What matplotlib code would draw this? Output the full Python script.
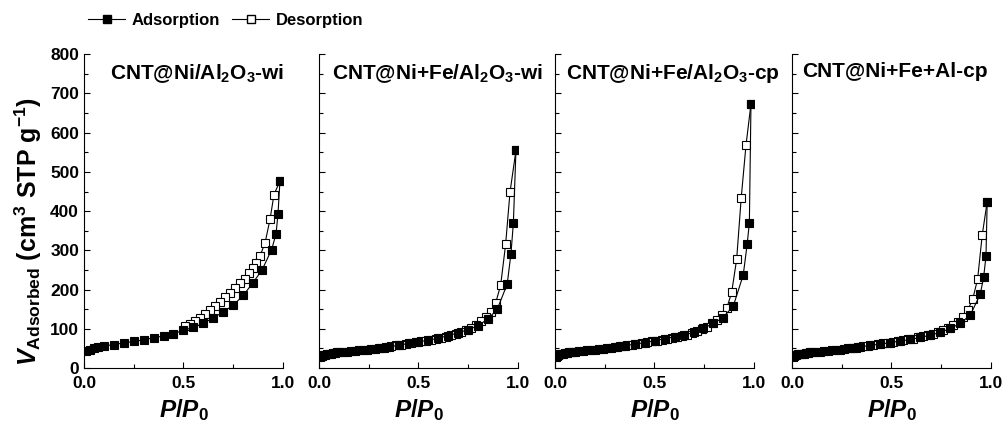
import matplotlib
matplotlib.use("Agg")
import matplotlib.pyplot as plt
from matplotlib.ticker import MultipleLocator
from matplotlib.lines import Line2D

plt.rcParams['font.family'] = ['Liberation Sans', 'DejaVu Sans']
plt.rcParams['font.weight'] = 'bold'
plt.rcParams['axes.labelweight'] = 'bold'
plt.rcParams['mathtext.fontset'] = 'custom'
plt.rcParams['mathtext.rm'] = 'Liberation Sans:bold'
plt.rcParams['mathtext.bf'] = 'Liberation Sans:bold'
plt.rcParams['mathtext.it'] = 'Liberation Sans:italic:bold'
plt.rcParams['mathtext.default'] = 'rm'

titles = ['CNT@Ni/Al$_2$O$_3$-wi', 'CNT@Ni+Fe/Al$_2$O$_3$-wi',
          'CNT@Ni+Fe/Al$_2$O$_3$-cp', 'CNT@Ni+Fe+Al-cp']

# panel 1: CNT@Ni/Al2O3-wi
ads1_x = [0.01, 0.03, 0.05, 0.07, 0.10, 0.15, 0.20, 0.25, 0.30, 0.35, 0.40, 0.45, 0.50,
          0.55, 0.60, 0.65, 0.70, 0.75, 0.80, 0.85, 0.895, 0.943, 0.965, 0.975, 0.985]
ads1_y = [44, 47, 50, 53, 56, 60, 64, 68, 72, 77, 82, 88, 96,
          104, 114, 128, 143, 160, 185, 218, 250, 302, 341, 392, 477]
des1_x = [0.985, 0.955, 0.935, 0.91, 0.885, 0.865, 0.85, 0.83, 0.81, 0.785, 0.76,
          0.735, 0.71, 0.685, 0.66, 0.635, 0.61, 0.585, 0.56, 0.535, 0.51]
des1_y = [477, 442, 379, 319, 286, 267, 256, 243, 228, 216, 203,
          192, 182, 169, 159, 148, 137, 128, 120, 113, 107]

# panel 2: CNT@Ni+Fe/Al2O3-wi
ads2_x = [0.003, 0.008, 0.015, 0.022, 0.03, 0.04, 0.05, 0.06, 0.07, 0.08, 0.09, 0.10,
          0.12, 0.14, 0.16, 0.18, 0.20, 0.22, 0.24, 0.26, 0.28, 0.30, 0.325, 0.35,
          0.40, 0.45, 0.50, 0.55, 0.60, 0.65, 0.70, 0.75, 0.80, 0.851, 0.896, 0.946,
          0.965, 0.977, 0.99]
ads2_y = [28, 30, 32, 33, 34, 35, 36, 37, 38, 39, 40, 40,
          41, 42, 43, 44, 45, 46, 47, 48, 49, 50, 52, 54,
          58, 63, 67, 71, 76, 83, 90, 98, 108, 126, 150, 214,
          292, 370, 555]
des2_x = [0.99, 0.96, 0.938, 0.913, 0.888, 0.863, 0.838, 0.812, 0.787, 0.762, 0.737,
          0.712, 0.687, 0.662, 0.637, 0.612, 0.587, 0.562, 0.537, 0.512, 0.487, 0.462,
          0.437, 0.412, 0.387, 0.362, 0.337, 0.312]
des2_y = [555, 448, 315, 211, 166, 143, 130, 120, 110, 103, 97,
          92, 88, 84, 80, 77, 74, 72, 70, 68, 66, 64,
          62, 60, 58, 56, 54, 52]

# panel 3: CNT@Ni+Fe/Al2O3-cp
ads3_x = [0.003, 0.008, 0.015, 0.022, 0.03, 0.04, 0.05, 0.06, 0.07, 0.08, 0.09, 0.10,
          0.12, 0.14, 0.16, 0.18, 0.20, 0.22, 0.24, 0.26, 0.28, 0.30, 0.325, 0.352,
          0.402, 0.452, 0.503, 0.553, 0.603, 0.648, 0.698, 0.745, 0.796, 0.843, 0.896,
          0.946, 0.966, 0.977, 0.985]
ads3_y = [27, 31, 34, 35, 36, 37, 38, 39, 40, 41, 41, 42,
          43, 44, 45, 46, 47, 48, 49, 50, 52, 53, 55, 57,
          61, 65, 70, 75, 80, 84, 91, 101, 114, 128, 158,
          237, 316, 371, 673]
des3_x = [0.985, 0.96, 0.936, 0.913, 0.888, 0.863, 0.837, 0.812, 0.787, 0.762, 0.737,
          0.712, 0.687, 0.662, 0.637, 0.612, 0.587, 0.562, 0.537, 0.512, 0.487, 0.462,
          0.437, 0.412, 0.387, 0.362, 0.337, 0.312]
des3_y = [673, 568, 434, 277, 193, 152, 135, 122, 114, 105, 99,
          94, 89, 85, 82, 79, 77, 74, 72, 70, 68, 66,
          64, 62, 60, 58, 56, 54]

# panel 4: CNT@Ni+Fe+Al-cp
ads4_x = [0.003, 0.008, 0.015, 0.022, 0.03, 0.04, 0.05, 0.06, 0.07, 0.08, 0.09, 0.10,
          0.12, 0.14, 0.16, 0.18, 0.20, 0.22, 0.24, 0.26, 0.28, 0.30, 0.32, 0.343,
          0.394, 0.444, 0.494, 0.544, 0.595, 0.645, 0.695, 0.745, 0.796, 0.846, 0.896,
          0.946, 0.963, 0.975, 0.981]
ads4_y = [28, 31, 33, 34, 35, 36, 37, 37, 38, 39, 40, 40,
          41, 42, 43, 44, 45, 46, 47, 48, 50, 51, 52, 54,
          58, 61, 65, 69, 73, 78, 84, 91, 101, 114, 135,
          188, 231, 285, 424]
des4_x = [0.981, 0.956, 0.933, 0.908, 0.883, 0.858, 0.833, 0.808, 0.783, 0.758, 0.733,
          0.708, 0.683, 0.658, 0.633, 0.608, 0.583, 0.558, 0.533, 0.508, 0.483, 0.458,
          0.433, 0.408, 0.383, 0.358, 0.333, 0.308]
des4_y = [424, 339, 227, 175, 148, 131, 118, 110, 103, 97, 92,
          88, 84, 81, 78, 75, 73, 71, 69, 67, 65, 63,
          61, 59, 57, 55, 53, 52]

ads_x = [ads1_x, ads2_x, ads3_x, ads4_x]
ads_y = [ads1_y, ads2_y, ads3_y, ads4_y]
des_x = [des1_x, des2_x, des3_x, des4_x]
des_y = [des1_y, des2_y, des3_y, des4_y]

fig = plt.figure(figsize=(10.03, 4.30), dpi=100)
lefts = [0.0837, 0.318, 0.5533, 0.7896]
title_x = [0.13, 0.065, 0.055, 0.05]

for i in range(4):
    ax = fig.add_axes([lefts[i], 0.144, 0.1984, 0.73])
    ax.plot(des_x[i], des_y[i], '-s', color='black', lw=0.8, ms=6,
            mfc='white', mec='black', mew=0.8)
    ax.plot(ads_x[i], ads_y[i], '-s', color='black', lw=0.8, ms=6,
            mfc='black', mec='black', mew=0.8)
    ax.set_xlim(0, 1.0)
    ax.set_ylim(0, 800)
    ax.spines['top'].set_visible(False)
    ax.spines['right'].set_visible(False)
    ax.xaxis.set_major_locator(MultipleLocator(0.5))
    ax.xaxis.set_minor_locator(MultipleLocator(0.25))
    ax.yaxis.set_major_locator(MultipleLocator(100))
    ax.yaxis.set_minor_locator(MultipleLocator(50))
    ax.tick_params(which='both', direction='in', labelsize=12.5, width=0.8)
    ax.tick_params(which='major', length=4)
    ax.tick_params(which='minor', length=3)
    ax.tick_params(axis='x', pad=6)
    ax.xaxis.set_major_formatter(plt.FuncFormatter(lambda v, p: '%.1f' % v))
    if i > 0:
        ax.set_yticklabels([])
    ax.set_xlabel(r'$\mathit{P/P}_{0}$', fontsize=17.5, labelpad=4)
    ax.text(title_x[i], 0.975, titles[i], transform=ax.transAxes, fontsize=15,
            fontweight='bold', ha='left', va='top')
    if i == 0:
        ax.set_ylabel(r'$\mathit{V}_{\mathrm{Adsorbed}}$ (cm$^{3}$ STP g$^{-1}$)',
                      fontsize=18)
        ax.yaxis.set_label_coords(-0.2, 0.434)

handles = [Line2D([], [], color='black', lw=0.8, marker='s', ms=6, mfc='black', mec='black'),
           Line2D([], [], color='black', lw=0.8, marker='s', ms=6, mfc='white', mec='black')]
fig.legend(handles, ['Adsorption', 'Desorption'], loc='center left',
           bbox_to_anchor=(0.073, 0.952), ncol=2, frameon=False, fontsize=12,
           handlelength=2.2, handletextpad=0.4, columnspacing=0.75)

fig.savefig('out.png', dpi=100)
